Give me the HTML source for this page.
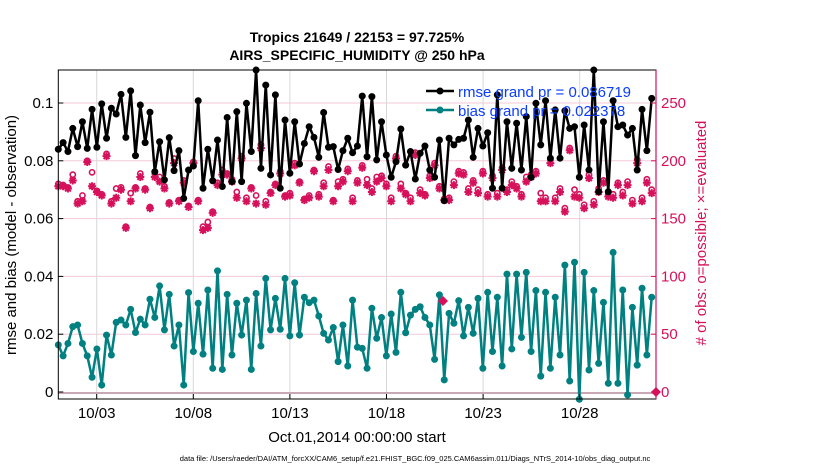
<!DOCTYPE html>
<html><head><meta charset="utf-8">
<style>
body{margin:0;background:#fff;}
svg{display:block;font-family:"Liberation Sans",Arial,sans-serif;}
</style></head>
<body>
<svg id="chart" width="830" height="470" viewBox="0 0 830 470">
<text x="357" y="42" text-anchor="middle" font-size="14" font-weight="bold">Tropics 21649 / 22153 = 97.725%</text>
<text x="357" y="60" text-anchor="middle" font-size="14" font-weight="bold">AIRS_SPECIFIC_HUMIDITY @ 250 hPa</text>
<g id="grid"></g>
<g id="series"></g>
<rect x="58.3" y="70" width="597.7" height="329" fill="none" stroke="#000" stroke-width="1"/>
<line x1="656" y1="70" x2="656" y2="399" stroke="#d6105a" stroke-width="1.2"/>
<g id="axes"></g>
<text transform="translate(16,235) rotate(-90)" text-anchor="middle" font-size="15">rmse and bias (model - observation)</text>
<text transform="translate(706,233) rotate(-90)" text-anchor="middle" font-size="15" fill="#d6105a"># of obs: o=possible; ×=evaluated</text>
<text x="357" y="442" text-anchor="middle" font-size="15">Oct.01,2014 00:00:00 start</text>
<text x="415" y="461" text-anchor="middle" font-size="7.5">data file: /Users/raeder/DAI/ATM_forcXX/CAM6_setup/f.e21.FHIST_BGC.f09_025.CAM6assim.011/Diags_NTrS_2014-10/obs_diag_output.nc</text>
<g>
<g>
<line x1="426" y1="91" x2="454" y2="91" stroke="#000" stroke-width="2.5"/>
<circle cx="440" cy="91" r="3.5" fill="#000"/>
<text x="458" y="97" font-size="15" fill="#0a3cff">rmse grand pr = 0.086719</text>
</g>
<g>
<line x1="426" y1="110" x2="454" y2="110" stroke="#008080" stroke-width="2.5"/>
<circle cx="440" cy="110" r="3.5" fill="#008080"/>
<text x="458" y="116" font-size="15" fill="#0a3cff">bias grand pr = 0.022378</text>
</g>
</g>
</svg>
<script>
const rmseValues=[0.0840,0.0863,0.0832,0.0912,0.0849,0.0935,0.0843,0.0978,0.0847,0.0997,0.0878,0.0982,0.0962,0.1030,0.0881,0.1042,0.0818,0.0993,0.0863,0.0968,0.0762,0.0866,0.0734,0.0880,0.0766,0.0835,0.0670,0.0768,0.0782,0.1008,0.0705,0.0840,0.0731,0.0872,0.0711,0.0950,0.0728,0.0970,0.0728,0.0999,0.0832,0.1114,
0.0774,0.1062,0.0751,0.1028,0.0705,0.0941,0.0757,0.0935,0.0789,0.0860,0.0918,0.0881,0.0812,0.0967,0.0847,0.0849,0.0770,0.0835,0.0878,0.0828,0.0851,0.1024,0.0814,0.1022,0.0803,0.0935,0.0820,0.0743,0.0797,0.0910,0.0785,0.0832,0.0737,0.0826,0.0851,0.0768,0.0743,0.0872,0.0662,0.0878,0.0855,0.0874,
0.0878,0.0941,0.0812,0.0912,0.0851,0.0897,0.0705,0.1028,0.0705,0.0935,0.0774,0.0930,0.0768,0.0953,0.0743,0.0999,0.0855,0.1008,0.0809,0.0976,0.0809,0.0973,0.0912,0.0918,0.0743,0.0924,0.0768,0.1114,0.0693,0.0935,0.0693,0.1008,0.0918,0.0924,0.0889,0.0912,0.0768,0.0978,0.0835,0.1016];
const biasValues=[0.0163,0.0125,0.0168,0.0226,0.0232,0.0168,0.0125,0.0051,0.0149,0.0024,0.0197,0.0128,0.0241,0.0249,0.0232,0.0286,0.0206,0.0252,0.0232,0.0321,0.0258,0.0367,0.0215,0.0338,0.0159,0.0232,0.0024,0.0344,0.0140,0.0307,0.0131,0.0353,0.0082,0.0419,0.0078,0.0338,0.0128,0.0307,0.0197,0.0318,0.0078,0.0341,
0.0159,0.0393,0.0215,0.0324,0.0217,0.0393,0.0194,0.0378,0.0197,0.0328,0.0309,0.0318,0.0263,0.0203,0.0180,0.0223,0.0105,0.0232,0.0090,0.0318,0.0155,0.0151,0.0082,0.0290,0.0186,0.0258,0.0125,0.0270,0.0137,0.0345,0.0205,0.0266,0.0286,0.0295,0.0258,0.0232,0.0113,0.0336,0.0042,0.0272,0.0238,0.0316,
0.0194,0.0293,0.0203,0.0324,0.0082,0.0345,0.0140,0.0328,0.0090,0.0408,0.0149,0.0408,0.0189,0.0414,0.0140,0.0351,0.0055,0.0345,0.0082,0.0328,0.0128,0.0439,0.0038,0.0449,-0.0025,0.0414,0.0076,0.0351,0.0099,0.0310,0.0030,0.0483,0.0030,0.0353,-0.0010,0.0293,0.0093,0.0359,0.0128,0.0328];
const obsEvaluated=[178,178,176,183,163,165,199,178,173,170,204,163,168,175,142,165,176,186,175,159,186,182,176,163,198,165,181,160,198,165,140,142,155,179,188,188,182,168,202,165,176,163,
211,162,172,179,189,169,170,196,181,166,168,191,169,178,192,165,178,182,191,165,181,194,179,173,182,185,178,165,202,176,171,165,205,172,170,185,196,176,166,166,179,189,
188,173,181,172,189,169,185,169,192,173,179,176,169,182,186,189,165,165,198,165,173,156,209,169,168,159,185,162,173,181,169,168,179,170,179,163,198,165,181,172];
const obsPossible=[180,179,177,188,165,170,200,190,174,171,206,165,176,177,143,172,177,189,176,160,190,186,178,164,202,166,183,161,199,166,143,147,156,181,192,189,184,173,204,168,177,170,
214,165,173,180,191,170,172,198,182,167,170,192,171,181,195,166,182,184,193,168,183,196,184,176,186,187,180,168,204,180,172,168,207,175,171,187,198,178,167,168,182,191,
190,176,183,175,191,171,187,172,194,175,182,178,171,186,188,191,172,168,201,168,176,159,211,175,171,162,188,165,176,183,171,171,181,173,182,166,201,168,184,175];
const xTickLabels=['10/03','10/08','10/13','10/18','10/23','10/28'];
const xTickDays=[2,7,12,17,22,27];
const yLeftTicks=[0,0.02,0.04,0.06,0.08,0.1];
const yLeftLabels=['0','0.02','0.04','0.06','0.08','0.1'];
const yRightTicks=[0,50,100,150,200,250];

const NS='http://www.w3.org/2000/svg';
const PX0=58.3,PX1=651.7,PTOP=70,PBOT=399;
const MAG='#d6105a';
function xIdx(i,n){return PX0+(PX1-PX0)*i/(n-1);}
function xDay(d){return 96.7+(d-2)*19.32;}
function yL(v){return 392-v*2890;}
function yR(v){return 392-v*289/250;}
function mk(tag,attrs,parent){const e=document.createElementNS(NS,tag);for(const k in attrs)e.setAttribute(k,attrs[k]);parent.appendChild(e);return e;}
const grid=document.getElementById('grid'),axes=document.getElementById('axes'),ser=document.getElementById('series');

yLeftTicks.forEach((v,i)=>{
  if(v>0){const g=mk('line',{x1:PX0,x2:656,y1:yL(v),y2:yL(v),stroke:'#f3c9d9','stroke-width':1},grid);
  
  }
  mk('line',{x1:PX0,x2:PX0+5,y1:yL(v),y2:yL(v),stroke:'#000'},axes);
  const lb=mk('text',{x:PX0-5,y:yL(v)+5,'text-anchor':'end','font-size':15},axes);
  lb.textContent=yLeftLabels[i];
  
  
});
yRightTicks.forEach(v=>{
  mk('line',{x1:651,x2:656,y1:yR(v),y2:yR(v),stroke:MAG},axes);
  const lb=mk('text',{x:661,y:yR(v)+5,'font-size':15,fill:MAG},axes);
  lb.textContent=String(v);
  
  
});
xTickDays.forEach((d,i)=>{
  const x=xDay(d);
  const g=mk('line',{x1:x,x2:x,y1:PTOP,y2:PBOT,stroke:'#d8d8d8','stroke-width':1},grid);
  
  
  mk('line',{x1:x,x2:x,y1:PBOT,y2:PBOT-5,stroke:'#000'},axes);
  const lb=mk('text',{x:x,y:418,'text-anchor':'middle','font-size':15},axes);
  lb.textContent=xTickLabels[i];
  
  
});
const zl=mk('line',{x1:PX0,x2:656,y1:yR(0)+1,y2:yR(0)+1,stroke:'#c9a7b4','stroke-width':2},ser);



const obsG=mk('g',{},ser);


obsPossible.forEach((v,i)=>{
  const c=mk('circle',{cx:xIdx(i,obsPossible.length),cy:yR(v),r:2.6,fill:'#fff',stroke:MAG,'stroke-width':1.6},obsG);
  
  
});
obsEvaluated.forEach((v,i)=>{
  const x=xIdx(i,obsEvaluated.length),y=yR(v),r=4;
  const p=mk('path',{d:`M${x-r},${y}H${x+r}M${x},${y-r}V${y+r}M${x-2.9},${y-2.9}L${x+2.9},${y+2.9}M${x-2.9},${y+2.9}L${x+2.9},${y-2.9}`,stroke:MAG,'stroke-width':2},obsG);
  
  
});

function drawLine(vals,color,name){
  const g=mk('g',{},ser);
  
  
  const pts=vals.map((v,i)=>xIdx(i,vals.length)+','+yL(v)).join(' ');
  mk('polyline',{points:pts,fill:'none',stroke:color,'stroke-width':2.5,'stroke-linejoin':'round'},g);
  vals.forEach((v,i)=>{
    const c=mk('circle',{cx:xIdx(i,vals.length),cy:yL(v),r:3.5,fill:color},g);
    
    
  });
}
drawLine(rmseValues,'#000','rmse-series');
drawLine(biasValues,'#008080','bias-series');

const d1=mk('path',{d:`M443,296l5,5l-5,5l-5,-5z`,fill:MAG},ser);


const d2=mk('path',{d:`M656,387l5,5l-5,5l-5,-5z`,fill:MAG},ser);


</script>
</body></html>
